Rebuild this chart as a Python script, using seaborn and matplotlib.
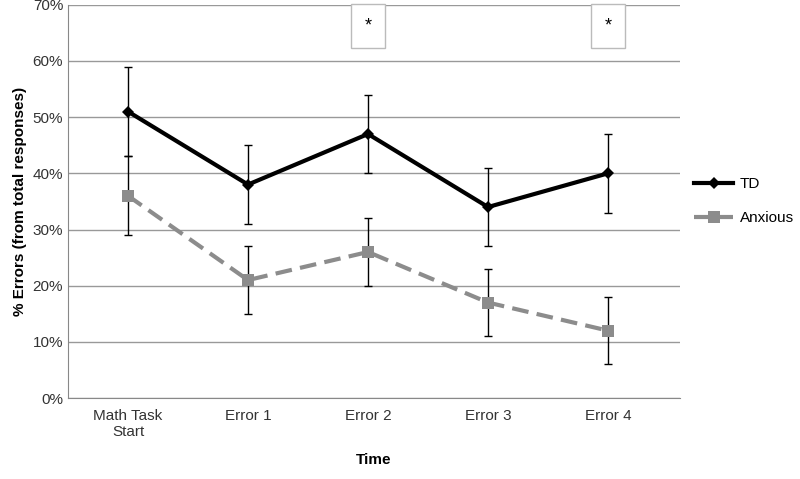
import matplotlib
matplotlib.use("Agg")
import matplotlib.pyplot as plt
import seaborn as sns
import pandas as pd
import numpy as np

categories = ["Math Task\nStart", "Error 1", "Error 2", "Error 3", "Error 4"]
td_values = [51, 38, 47, 34, 40]
td_err = [8, 7, 7, 7, 7]
anx_values = [36, 21, 26, 17, 12]
anx_err = [7, 6, 6, 6, 6]
star_cats = ["Error 2", "Error 4"]

plt.rcParams["font.family"] = "Liberation Sans"
fig = plt.figure(figsize=(8, 4.79), dpi=100)
ax = fig.add_axes([0.085, 0.169, 0.765, 0.821])

df = pd.DataFrame({"Time": categories * 2,
                   "val": td_values + anx_values,
                   "grp": ["TD"] * 5 + ["Anxious"] * 5})
x = np.arange(len(categories))
ax.errorbar(x, td_values, yerr=td_err, fmt="none", ecolor="black", elinewidth=1, capsize=3, zorder=2)
ax.errorbar(x, anx_values, yerr=anx_err, fmt="none", ecolor="black", elinewidth=1, capsize=3, zorder=2)
sns.lineplot(data=df, x="Time", y="val", hue="grp", style="grp",
             palette={"TD": "black", "Anxious": "#8c8c8c"},
             dashes={"TD": "", "Anxious": (4, 2)},
             markers={"TD": "D", "Anxious": "s"},
             markersize=6, linewidth=3, markeredgewidth=0,
             ax=ax, zorder=3, sort=False)
for line in ax.get_lines():
    if line.get_marker() == "s":
        line.set_markersize(9)
for c in star_cats:
    i = categories.index(c)
    ax.text(i, 66.3, "*", ha="center", va="center", fontsize=13,
            bbox=dict(boxstyle="square,pad=0.75", fc="white", ec="#bbbbbb"))

ax.set_ylim(0, 70)
ax.set_xlim(-0.5, 4.6)
ax.set_yticks(range(0, 71, 10))
ax.set_yticklabels([f"{v}%" for v in range(0, 71, 10)], fontsize=11, color="#333333")
ax.tick_params(axis="x", labelsize=11, colors="#333333", length=0, pad=8)
ax.tick_params(axis="y", length=0)
ax.grid(axis="y", color="#999999", linewidth=1)
ax.set_axisbelow(True)
for s in ["top", "right"]:
    ax.spines[s].set_visible(False)
ax.spines["left"].set_color("#888888")
ax.spines["bottom"].set_color("#888888")
ax.set_xlabel("Time", fontsize=11, fontweight="bold", labelpad=10)
ax.set_ylabel("% Errors (from total responses)", fontsize=11, fontweight="bold")
h, l = ax.get_legend_handles_labels()
for hh in h:
    hh.set_markeredgewidth(0)
ax.legend(h, l, loc="center left", bbox_to_anchor=(1.0, 0.5), frameon=False,
          fontsize=11, handlelength=2.6, labelspacing=1.3, handletextpad=0.4)
fig.savefig("out.png", dpi=100)
